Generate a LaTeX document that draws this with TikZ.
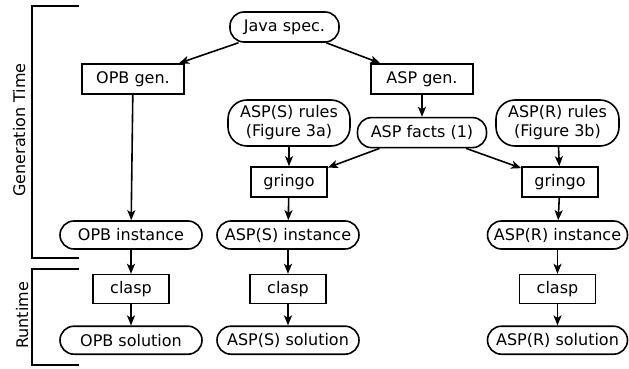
\documentclass[tikz,border=0pt]{standalone}
\usepackage{fontspec}
\setmainfont{DejaVu Sans}
\usetikzlibrary{arrows.meta,positioning}
\tikzset{>=Stealth}

\begin{document}
\begin{tikzpicture}[
    x=1pt, y=-1pt,
    every node/.style={font=\fontsize{16}{19}\selectfont},
    term/.style={draw, line width=1.6pt, rounded corners=14pt, minimum height=28pt, inner sep=2pt, align=center, minimum width=#1},
    term/.default=142pt,
    proc/.style={draw, line width=1.6pt, minimum height=30pt, inner sep=2pt, minimum width=#1},
    proc/.default=76pt,
    arr/.style={->, line width=1.6pt, >={Stealth[length=10pt,width=8pt,inset=2.5pt]}},
    phase/.style={line width=1.6pt},
    node distance=24pt
  ]
    \useasboundingbox (0,0) rectangle (629,369);

    % generation
    \node[term=109pt, minimum height=30pt] (java) at (284.5,27) {Java spec.};
    \node[proc=102pt] (opbgen) at (133,79) {OPB gen.};
    \node[proc=102pt] (aspgen) at (422,79) {ASP gen.};
    \node[term=129pt, minimum height=30pt, below=22pt of aspgen] (facts) {ASP facts (1)};
    \node[term=122pt, minimum height=46pt, rounded corners=19pt] (rulesS) at (289,123) {ASP(S) rules\\(Figure 3a)};
    \node[term=123pt, minimum height=46pt, rounded corners=19pt] (rulesR) at (557.5,123) {ASP(R) rules\\(Figure 3b)};
    \node[proc] (gringoS) at (289,182) {gringo};
    \node[proc] (gringoR) at (560,182) {gringo};

    \node[term] (opbinst) at (131,235) {OPB instance};
    \node[term] (instS)   at (288,235) {ASP(S) instance};
    \node[term=140pt] (instR) at (557.5,235) {ASP(R) instance};

    % runtime
    \node[proc, minimum height=29pt, below=of opbinst] (claspO) {clasp};
    \node[proc, minimum height=29pt, below=of instS]   (claspS) {clasp};
    \node[proc, minimum height=29pt, below=of instR]   (claspR) {clasp};
    \node[term, below=21pt of claspO] (solO) {OPB solution};
    \node[term, below=21pt of claspS] (solS) {ASP(S) solution};
    \node[term=140pt, below=21pt of claspR] (solR) {ASP(R) solution};

    % phases
    \draw[phase] (79,6) -- (32,6) -- (32,258) -- (79,258);
    \draw[phase] (79,269) -- (32,269) -- (32,365) -- (79,365);
    \node[rotate=90, anchor=base] (gentime) at (25,130) {Generation Time};
    \node[rotate=90, anchor=base] (runtime) at (28,315.5) {Runtime};

    \draw[arr] (java) -- (opbgen);
    \draw[arr] (java) -- (aspgen);
    \draw[arr] (opbgen) -- (opbinst);
    \draw[arr] (aspgen) -- (facts);
    \draw[arr] (rulesS) -- (gringoS);
    \draw[arr] (facts) -- (gringoS);
    \draw[arr] (facts) -- (gringoR);
    \draw[arr] (rulesR) -- (gringoR);
    \foreach \a/\b in {gringoS/instS, gringoR/instR, opbinst/claspO, instS/claspS, instR/claspR, claspO/solO, claspS/solS, claspR/solR}
      \draw[arr] (\a) -- (\b);
  \end{tikzpicture}
\end{document}
